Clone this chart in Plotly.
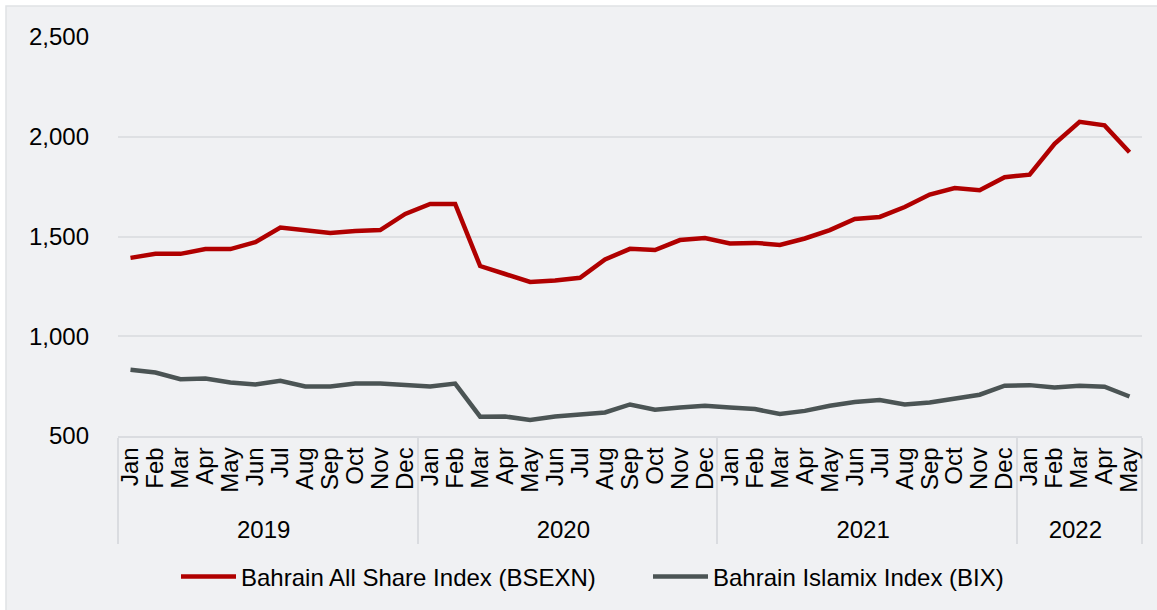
import plotly.graph_objects as go

months = ["Jan", "Feb", "Mar", "Apr", "May", "Jun", "Jul", "Aug", "Sep", "Oct", "Nov", "Dec"] * 3 + ["Jan", "Feb", "Mar", "Apr", "May"]
years = ["2019"] * 12 + ["2020"] * 12 + ["2021"] * 12 + ["2022"] * 5

bsexn = [1393, 1413, 1413, 1437, 1437, 1472, 1545, 1532, 1518, 1527, 1532, 1613,
         1663, 1663, 1352, 1312, 1272, 1280, 1293, 1385, 1438, 1432, 1482, 1492,
         1465, 1468, 1458, 1490, 1532, 1588, 1598, 1648, 1710, 1743, 1732, 1797,
         1810, 1965, 2075, 2057, 1922]
bix = [832, 818, 785, 788, 768, 758, 777, 748, 748, 763, 763, 758,
       748, 763, 597, 598, 580, 598, 607, 618, 658, 632, 643, 652,
       643, 635, 610, 626, 652, 670, 680, 658, 668, 688, 707, 752,
       755, 743, 752, 747, 698]

series_names = ["Bahrain All Share Index (BSEXN)", "Bahrain Islamix Index (BIX)"]
colors = ["#B00000", "#4B5454"]

FONT = "Arial, Liberation Sans, sans-serif"
FS = 24

fig = go.Figure()
for name, vals, col in zip(series_names, [bsexn, bix], colors):
    fig.add_trace(go.Scatter(
        x=[years, months], y=vals, mode="lines", name=name,
        line=dict(color=col, width=4.5),
    ))

W, H = 1157, 610
L, R, T, B = 118, 15, 37, 173
pw = W - L - R
ph = H - T - B
n = len(months)

fig.add_shape(type="rect", xref="paper", yref="paper",
              x0=(6 - L) / pw, x1=(W + 5 - L) / pw,
              y0=-(B + 5) / ph, y1=(H - B - 6) / ph,
              fillcolor="#F0F1F3", line=dict(color="#E0E2E5", width=1.5), layer="below")

fig.update_layout(
    width=W, height=H,
    margin=dict(l=L, r=R, t=T, b=B),
    paper_bgcolor="white",
    plot_bgcolor="rgba(0,0,0,0)",
    font=dict(family=FONT, size=FS, color="#000000"),
    showlegend=True,
    legend=dict(orientation="h", x=(176 - L) / pw, xanchor="left",
                y=(H - B - 577) / ph, yanchor="middle",
                bgcolor="rgba(0,0,0,0)", font=dict(size=FS, family=FONT),
                itemwidth=55, entrywidth=402, tracegroupgap=0),
    xaxis=dict(type="multicategory", tickangle=-90, showdividers=True,
               range=[-0.5, n - 0.5], tickmode="linear", tick0=0, dtick=1,
               dividercolor="#DADCE0", dividerwidth=1.5,
               showline=True, linecolor="#DADCE0", linewidth=1.5,
               showgrid=False, ticks="", tickfont=dict(size=FS, family=FONT)),
    yaxis=dict(range=[500, 2500], dtick=500, tickformat=",",
               showgrid=True, gridcolor="#DEE0E3", gridwidth=1.5,
               zeroline=False, showline=False, ticks="",
               ticklabelstandoff=28, tickfont=dict(size=FS, family=FONT)),
)

fig.write_html("out.html", config={"displayModeBar": False},
               post_script="document.body.style.margin='0';document.body.style.padding='0';")
